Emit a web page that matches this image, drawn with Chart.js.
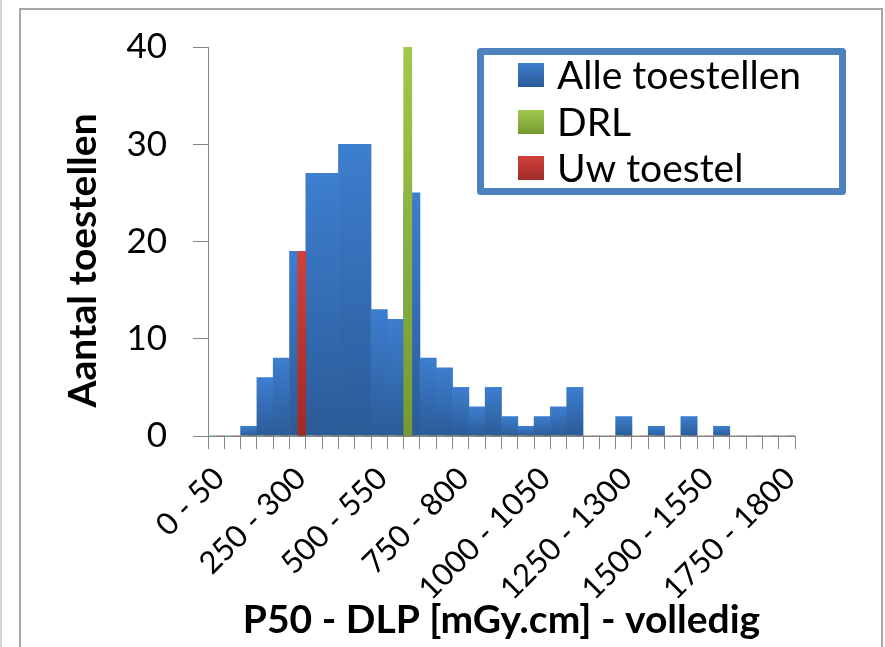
<!DOCTYPE html>
<html>
<head>
<meta charset="utf-8">
<title>P50 - DLP volledig</title>
<script src="https://cdn.jsdelivr.net/npm/chart.js@4.4.1/dist/chart.umd.min.js"></script>
<style>
  body { margin: 0; background: #fff; }
  canvas { display: block; }
</style>
</head>
<body>
<canvas id="chartDLP" width="885" height="647"></canvas>
<script>
// bins of 50 mGy.cm
var bins = ['0 - 50', '50 - 100', '100 - 150', '150 - 200', '200 - 250', '250 - 300',
    '300 - 350', '350 - 400', '400 - 450', '450 - 500', '500 - 550', '550 - 600',
    '600 - 650', '650 - 700', '700 - 750', '750 - 800', '800 - 850', '850 - 900',
    '900 - 950', '950 - 1000', '1000 - 1050', '1050 - 1100', '1100 - 1150', '1150 - 1200',
    '1200 - 1250', '1250 - 1300', '1300 - 1350', '1350 - 1400', '1400 - 1450', '1450 - 1500',
    '1500 - 1550', '1550 - 1600', '1600 - 1650', '1650 - 1700', '1700 - 1750', '1750 - 1800']
// number of devices per bin
var alleToestellen = [0, 0, 1, 6, 8, 19, 27, 27, 30, 30, 13, 12, 25, 8, 7, 5, 3, 5,
    2, 1, 2, 3, 5, 0, 0, 2, 0, 1, 0, 2, 0, 1, 0, 0, 0, 0]
// DRL marker (bin 600 - 650)
var drl = [0, 0, 0, 0, 0, 0, 0, 0, 0, 0, 0, 0, 40, 0, 0, 0, 0, 0,
    0, 0, 0, 0, 0, 0, 0, 0, 0, 0, 0, 0, 0, 0, 0, 0, 0, 0]
// your device (bin 250 - 300)
var uwToestel = [0, 0, 0, 0, 0, 19, 0, 0, 0, 0, 0, 0, 0, 0, 0, 0, 0, 0,
    0, 0, 0, 0, 0, 0, 0, 0, 0, 0, 0, 0, 0, 0, 0, 0, 0, 0]
var yTicks = [0, 10, 20, 30, 40]

var axisGrey = '#868686'
var fontName = 'Lato'

// vertical shading on every bar, like the excel style
function barGradient(top, bottom) {
    return function (context) {
        var chart = context.chart
        var y = chart.scales.y
        if (!y || context.type !== 'data' || !context.raw) return top
        var y0 = y.getPixelForValue(0)
        var y1 = y.getPixelForValue(context.raw)
        if (!isFinite(y0) || !isFinite(y1) || y0 === y1) return top
        var g = chart.ctx.createLinearGradient(0, y1, 0, y0)
        g.addColorStop(0, top)
        g.addColorStop(1, bottom)
        return g
    }
}

var seriesColors = [
    ['#3d7ecf', '#2b5b97'],
    ['#a0c84a', '#769934'],
    ['#d1403b', '#9f2b27']
]

// white page + grey frame around the chart
var framePlugin = {
    id: 'frame',
    beforeDraw: function (chart) {
        var ctx = chart.ctx
        ctx.save()
        ctx.fillStyle = '#fff'
        ctx.fillRect(0, 0, chart.width, chart.height)
        ctx.strokeStyle = '#d4d4d4'
        ctx.lineWidth = 2
        ctx.beginPath()
        ctx.moveTo(1, 0)
        ctx.lineTo(1, chart.height)
        ctx.stroke()
        ctx.strokeStyle = '#a6a6a6'
        ctx.strokeRect(20, 9, 862, chart.height + 20)
        ctx.restore()
    }
}

// boxed legend in the top right of the plot
var boxLegend = {
    id: 'boxLegend',
    afterDraw: function (chart, args, opts) {
        var ctx = chart.ctx
        ctx.save()
        ctx.fillStyle = '#fff'
        ctx.fillRect(opts.left, opts.top, opts.right - opts.left, opts.bottom - opts.top)
        ctx.lineWidth = opts.border
        ctx.strokeStyle = '#4f81bd'
        ctx.lineJoin = 'round'
        ctx.strokeRect(opts.left + opts.border / 2, opts.top + opts.border / 2,
            opts.right - opts.left - opts.border, opts.bottom - opts.top - opts.border)
        ctx.font = opts.fontSize + 'px ' + fontName
        ctx.textBaseline = 'middle'
        ctx.textAlign = 'left'
        chart.data.datasets.forEach(function (ds, i) {
            var cy = opts.rows[i]
            var g = ctx.createLinearGradient(0, cy - 12, 0, cy + 12)
            g.addColorStop(0, seriesColors[i][0])
            g.addColorStop(1, seriesColors[i][1])
            ctx.fillStyle = g
            ctx.fillRect(opts.swatchX, cy - 12, 26, 24)
            ctx.fillStyle = '#000'
            ctx.fillText(ds.label, opts.textX, cy + 1)
        })
        ctx.restore()
    }
}

var canvas = document.getElementById('chartDLP')
var ctx = canvas.getContext('2d')
var myChart = new Chart(ctx, {
    type: 'bar',
    data: {
        labels: bins,
        datasets: [{
            label: 'Alle toestellen',
            data: alleToestellen,
            backgroundColor: barGradient(seriesColors[0][0], seriesColors[0][1]),
            grouped: false,
            order: 3
        }, {
            label: 'DRL',
            data: drl,
            backgroundColor: barGradient(seriesColors[1][0], seriesColors[1][1]),
            order: 1
        }, {
            label: 'Uw toestel',
            data: uwToestel,
            backgroundColor: barGradient(seriesColors[2][0], seriesColors[2][1]),
            order: 2
        }]
    },
    options: {
        responsive: false,
        animation: false,
        datasets: {
            bar: { categoryPercentage: 1, barPercentage: 1, borderWidth: 0 }
        },
        layout: { padding: { left: 0, top: 43, right: 90, bottom: 0 } },
        plugins: {
            legend: { display: false },
            tooltip: { enabled: false },
            boxLegend: {
                left: 477, top: 48, right: 846, bottom: 195, border: 7,
                rows: [75, 122, 168], swatchX: 518, textX: 557, fontSize: 39
            }
        },
        scales: {
            x: {
                afterFit: function (axis) { axis.height = 211 },
                border: { color: axisGrey },
                grid: { offset: true, drawOnChartArea: false, tickLength: 13, color: axisGrey },
                ticks: {
                    autoSkip: false,
                    maxRotation: 45,
                    minRotation: 45,
                    padding: 11,
                    labelOffset: 3,
                    color: '#000',
                    font: { family: fontName, size: 31 },
                    callback: function (value, index) {
                        return index % 5 === 0 ? this.getLabelForValue(value) : ''
                    }
                },
                title: {
                    display: true,
                    text: 'P50 - DLP [mGy.cm] - volledig',
                    color: '#000',
                    font: { family: fontName, size: 39, weight: 'bold' },
                    padding: { top: 0, bottom: 3 }
                }
            },
            y: {
                min: 0,
                max: 40,
                afterBuildTicks: function (axis) {
                    axis.ticks = yTicks.map(function (v) { return { value: v } })
                },
                afterFit: function (axis) { axis.width = 208 },
                border: { color: axisGrey },
                grid: { drawOnChartArea: false, tickLength: 15, color: axisGrey },
                ticks: {
                    color: '#000',
                    padding: 26,
                    font: { family: fontName, size: 35 }
                },
                title: {
                    display: true,
                    text: 'Aantal toestellen    ',
                    color: '#000',
                    font: { family: fontName, size: 39, weight: 'bold' },
                    padding: { top: 60, bottom: 0 }
                }
            }
        }
    },
    plugins: [framePlugin, boxLegend]
})
</script>
</body>
</html>
